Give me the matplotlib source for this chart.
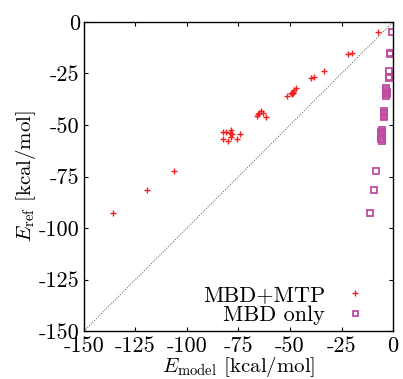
import matplotlib
matplotlib.use("Agg")
import matplotlib.pyplot as plt
import numpy as np

plt.rcParams["font.family"] = ["cmr10", "DejaVu Serif"]
plt.rcParams["mathtext.fontset"] = "cm"
plt.rcParams["axes.unicode_minus"] = False

# MBD+MTP: model energy vs reference energy (kcal/mol)
mtp_model = [-7.1, -22.0, -20.0, -33.3, -39.7, -38.2, -51.6,
             -49.7, -48.7, -48.1, -47.1, -49.2, -48.4,
             -65.9, -64.9, -64.1, -63.0, -61.8, -65.4,
             -82.4, -81.1, -78.8, -78.2, -78.6, -74.1, -82.7, -80.1, -75.9, -79.1,
             -106.2, -119.3, -136.1]
ref = [-5.0, -15.5, -14.9, -23.8, -27.3, -26.6, -35.9,
       -34.6, -33.8, -33.0, -32.2, -35.1, -34.3,
       -45.6, -44.0, -43.2, -44.0, -46.0, -44.8,
       -53.4, -53.4, -52.4, -54.5, -55.7, -54.2, -56.9, -57.6, -56.9, -53.7,
       -72.5, -81.6, -92.9]
# MBD only: model energy for the same reference values
mbd_model = [-0.3, -1.3, -1.4, -2.0, -2.1, -2.0, -3.3,
             -3.2, -3.1, -3.2, -3.3, -3.1, -3.2,
             -4.4, -4.3, -4.5, -4.4, -4.3, -4.5,
             -5.5, -5.6, -5.4, -5.5, -5.7, -5.3, -5.6, -5.5, -5.4, -5.6,
             -8.1, -9.4, -11.0]

ticks = [-150, -125, -100, -75, -50, -25, 0]
tick_labels = ["-150", "-125", "-100", "-75", "-50", "-25", "0"]

fig = plt.figure(figsize=(4.03, 3.79), dpi=100)
ax = fig.add_axes([0.2084, 0.1266, 0.7668, 0.8154])

ax.plot([-150, 0], [-150, 0], ls=(0, (1, 1.5)), color="#555555", lw=0.7, zorder=1)
ax.plot(mtp_model, ref, ls="none", marker="+", ms=5, mew=1.0,
        color="#f02020", label="MBD+MTP", zorder=3)
ax.plot(mbd_model, ref, ls="none", marker="s", ms=4.5, mew=1.3, mfc="none",
        mec="#c04ca0", color="#c04ca0", label="MBD only", zorder=2)

ax.set_xlim(-150, 0)
ax.set_ylim(-150, 0)
ax.set_xticks(ticks)
ax.set_xticklabels(tick_labels)
ax.set_yticks(ticks)
ax.set_yticklabels(tick_labels)
ax.tick_params(direction="in", length=3, width=0.8, labelsize=16,
               top=True, right=True, pad=3)
ax.tick_params(axis="x", pad=4)
for s in ax.spines.values():
    s.set_linewidth(1.0)

ax.set_xlabel(r"$E_{\mathrm{model}}$ [kcal/mol]", fontsize=15, labelpad=-0.5)
ax.set_ylabel(r"$E_{\mathrm{ref}}$ [kcal/mol]", fontsize=15, labelpad=1)

leg = ax.legend(loc="lower right", frameon=False, markerfirst=False, numpoints=1,
                fontsize=16, handlelength=1.0, handletextpad=0.85,
                labelspacing=0.0, borderpad=0, borderaxespad=0,
                bbox_to_anchor=(0.913, 0.021), markerscale=0.8)

fig.savefig("out.png", dpi=100)
